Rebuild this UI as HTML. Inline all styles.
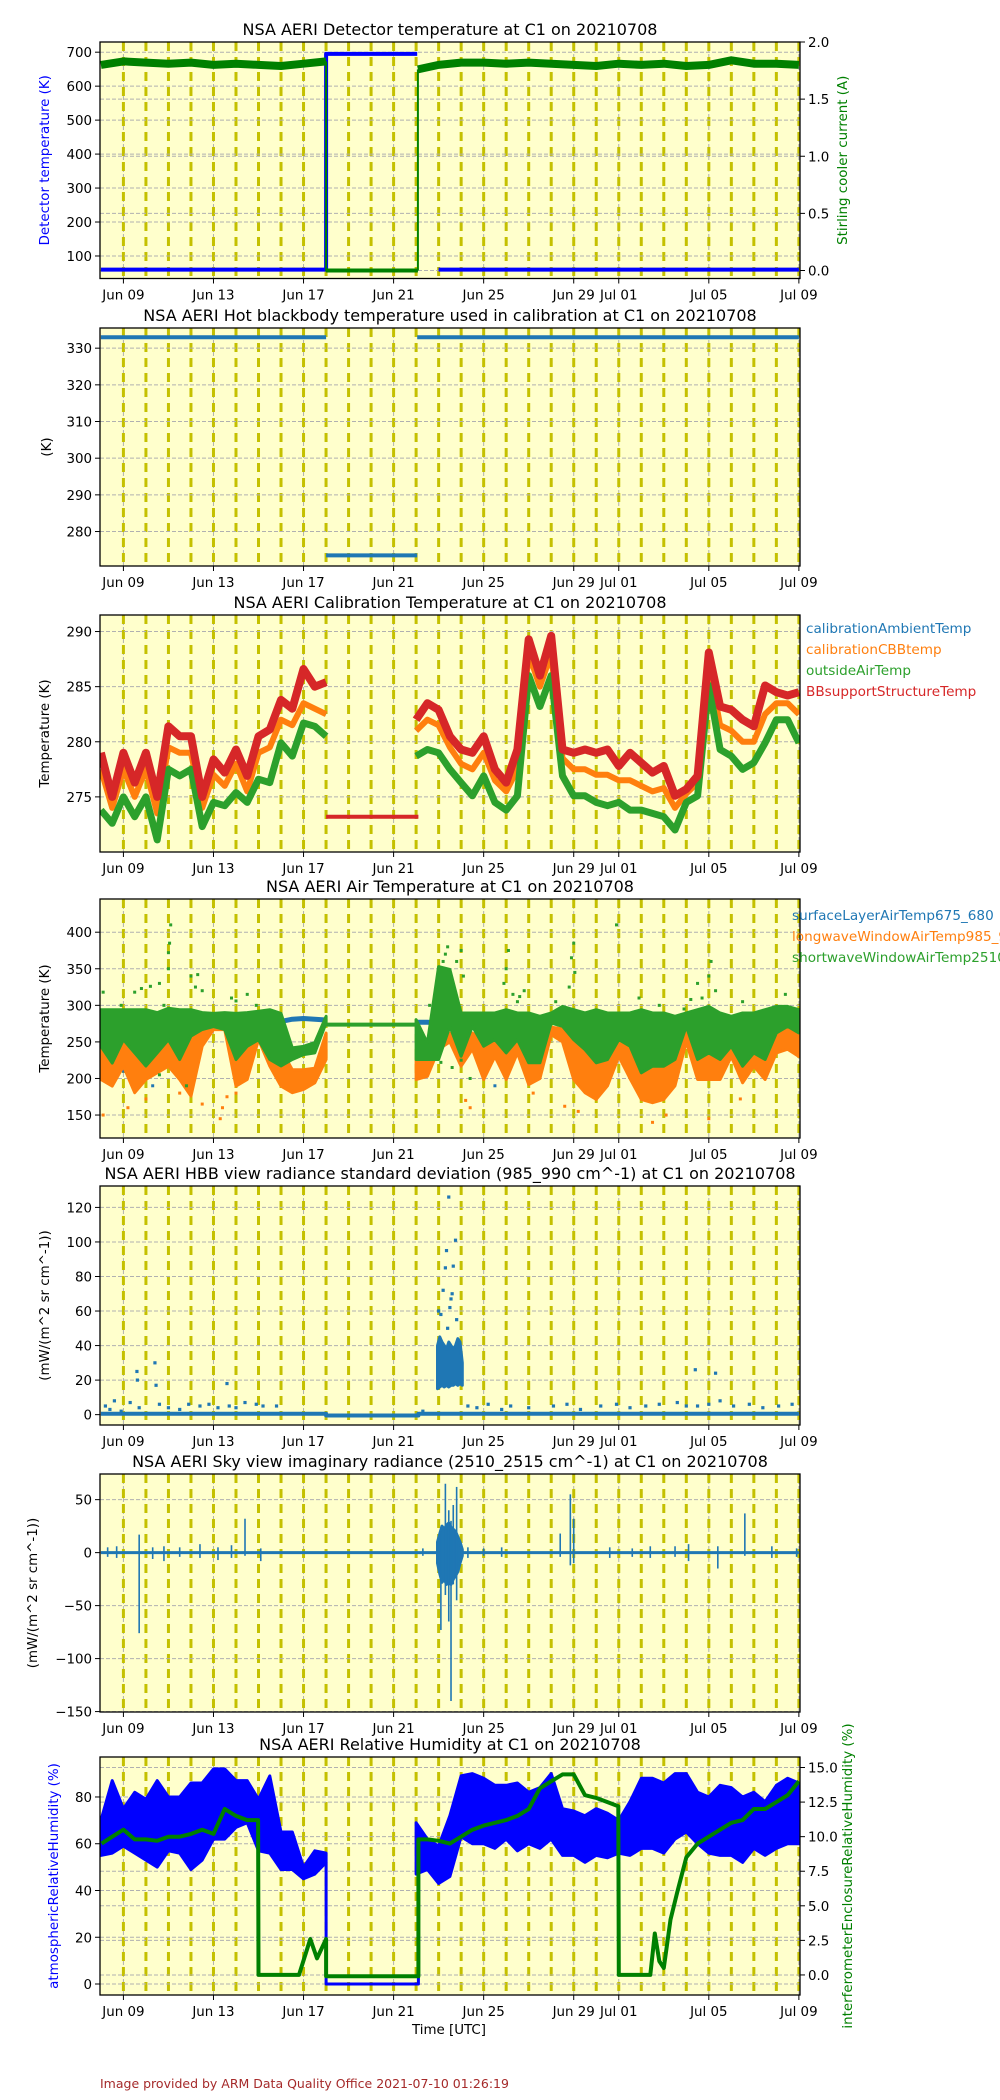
<!DOCTYPE html>
<html><head><meta charset="utf-8"><style>
html,body{margin:0;padding:0;background:#fff;}
svg{display:block;font-family:"DejaVu Sans","Liberation Sans",sans-serif;}
</style></head><body>
<svg id="fig" width="1000" height="2100" viewBox="0 0 1000 2100" xmlns="http://www.w3.org/2000/svg"></svg>
<script>
// ---------- shared axis ----------
const xTickDays = [1,5,9,13,17,21,23,27,31];
const xTickLabels = ["Jun 09","Jun 13","Jun 17","Jun 21","Jun 25","Jun 29","Jul 01","Jul 05","Jul 09"];
// ---------- panel 1 ----------
const p1BlueDaysA = [0,10,10,10,10,14.05];
const p1BlueValsA = [60,60,60,695,695,695];
const p1BlueDaysB = [15.0,31];
const p1BlueValsB = [60,60];
const p1GreenDaysA = [0,1,2,3,4,5,6,7,8,9,10];
const p1GreenValsA = [1.80,1.83,1.82,1.81,1.82,1.80,1.81,1.80,1.79,1.81,1.83];
const p1GreenDaysB = [14.08,15,16,17,18,19,20,21,22,23,24,25,26,27,28,29,30,31];
const p1GreenValsB = [1.76,1.80,1.82,1.82,1.81,1.82,1.81,1.80,1.79,1.81,1.80,1.81,1.79,1.80,1.84,1.81,1.81,1.80];
// ---------- panel 2 ----------
const p2DaysA = [0,10.0]; const p2ValsA = [333,333];
const p2DaysGap = [10.0,14.05]; const p2ValsGap = [273.5,273.5];
const p2DaysB = [14.05,31]; const p2ValsB = [333,333];
// ---------- panel 3 (half-day) ----------
const p3RedA = [279,275,279,276.3,279,275,281.4,280.5,280.5,275,278.4,277.2,279.3,276.9,280.5,281.1,283.8,283,286.6,285,285.4];
const p3GreenA = [273.8,272.6,275,273.2,275,271.1,277.5,276.9,277.5,272.3,274.5,274.2,275.4,274.5,276.6,276.3,279.9,278.7,281.7,281.4,280.5];
const p3OrangeA = [277.5,274,277.5,275,277.5,273.5,279.5,279,279,274,277,276,278,275.5,279,279.5,282,281.5,283.5,283,282.5];
const p3RedB = [282.0,283.5,282.9,280.5,279.3,279.0,280.5,277.5,276.3,279.3,289.3,286.0,289.6,279.3,279.0,279.3,279.0,279.3,277.8,279.0,278.1,277.2,277.8,275.1,275.7,276.9,288.1,283.2,282.9,282.0,281.4,285.1,284.5,284.2,284.5];
const p3GreenB = [278.7,279.3,279.0,277.5,276.3,275.1,276.9,274.5,273.8,275.1,286.0,283.2,286.0,276.9,275.1,275.1,274.5,274.2,274.5,273.8,273.8,273.5,273.2,272.0,274.5,275.1,285.1,279.3,278.7,277.5,278.1,279.9,282.0,282.0,279.9];
const p3OrangeB = [281,282,281.5,279.5,278,277.5,279,276.5,275.5,277.5,288,285,288,278.5,277.5,277.5,277,277,276.5,276.5,276,275.5,275.8,274,275.3,276.3,287,281.5,281,280,280,282.5,283.5,283.5,282.5];
const p3RedGapDays = [10.0,14.1]; const p3RedGapVals = [273.2,273.2];
const p3Legend = ["calibrationAmbientTemp","calibrationCBBtemp","outsideAirTemp","BBsupportStructureTemp"];
// ---------- panel 4 (half-day bands) ----------
const p4GreenHiA = [294,294,294,294,294,290,296,294,294,290,289,290,289,290,292,294,289,241.8,244,249,285];
const p4GreenLoA = [244,221,253,235,217,235,253,226,258,267,271,267,226,244,253,226,217,226,232.7,235,276];
const p4OrangeHiA = [262,250,262,255,245,255,262,250,265,268,270,268,250,260,262,250,240,212,212,214,262];
const p4OrangeLoA = [198.6,189.5,216.8,180.5,198.6,207.7,216.8,198.6,175.9,244.1,266.8,266.8,189.5,198.6,253.2,216.8,189.5,180.5,185,194.1,225.9];
const p4BlueA = [272,272,272,272,272,272,272,272,272,272,272,272,272,274,275,276,278,281,282,281,280];
const p4GreenHiB = [280.5,248.6,353,349,289.5,289.5,289.5,289.5,294.1,289.5,289.5,285,289.5,298.6,294.1,289.5,294.1,289.5,289.5,289.5,294.1,289.5,289.5,285,289.5,294.1,298.6,289.5,285,289.5,289.5,294.1,298.6,298.6,294.1];
const p4GreenLoB = [225.9,225.9,225.9,271.4,230.5,271.4,244.1,253.2,235,253.2,221.4,221.4,275.9,271.4,253.2,239.5,221.4,225.9,253.2,244.1,207.7,216.8,216.8,225.9,271.4,225.9,235,225.9,244.1,216.8,235,225.9,262.3,271.4,262.3];
const p4OrangeHiB = [228,228,235,262,235,262,250,255,240,255,225,225,270,268,255,244,225,230,255,248,212,220,220,230,268,230,240,230,248,222,240,230,262,268,262];
const p4OrangeLoB = [198.6,203,240,250,216.8,240,198.6,230,198.6,235,191.8,200,260,250,198.6,180.5,171.4,190,230,200,171.4,166.8,171.4,190,250,198.6,198.6,198.6,230,194.1,216.8,198.6,235,240,230];
const p4BlueB = [277,277,276,275,274,273,274,273,275,276,282,283,282,278,276,276,275,274,273,273,272,272,273,274,276,278,279,278,277,276,275,275,275,276,275];
const p4GreenGapDays = [10.0,14.0]; const p4GreenGapVals = [273.6,273.6];
const p4GreenOut = [[0.1,318],[0.9,300],[1.5,318],[1.8,323],[2.2,326],[2.6,330],[2.8,300],[3.0,350],[3.0,372],[3.1,410],[3.05,385],[4.0,340],[4.2,325],[4.3,342],[4.5,320],[5.8,310],[6.0,306],[6.5,315],[6.9,300],[14.6,300],[15.2,360],[15.3,370],[15.4,380],[15.8,360],[16.0,375],[16.1,340],[15.0,230],[15.1,222],[15.6,215],[16.0,225],[16.4,200],[17.9,330],[18.0,350],[18.1,375],[18.3,315],[18.5,305],[18.6,312],[18.8,320],[20.2,305],[20.8,325],[20.9,365],[21.0,385],[21.05,345],[22.9,410],[23.9,310],[24.8,300],[25.9,295],[26.2,308],[26.5,330],[26.7,310],[27.0,340],[27.1,360],[27.3,320],[28.5,305],[30.4,315],[2.6,205],[3.8,190]];
const p4OrangeOut = [[0.1,150],[1.2,160],[2.0,172],[3.5,180],[4.5,165],[5.3,145],[5.4,160],[5.6,175],[6.0,180],[16.2,170],[16.4,160],[20.6,162],[21.2,155],[24.5,140],[25.1,150],[27.0,145],[28.4,172],[19.2,180]];
const p4BlueOut = [[1.0,210],[1.4,200],[2.3,190],[6.0,240],[17.5,190],[21.9,205],[26.5,230]];
const p4Legend = ["surfaceLayerAirTemp675_680","longwaveWindowAirTemp985_990","shortwaveWindowAirTemp2510_2515"];
// ---------- panel 5 ----------
const p5LineDays = [0,10,10,14.1,14.1,31];
const p5LineVals = [0.5,0.5,-0.5,-0.5,0.5,0.5];
const p5Points = [[0.2,5],[0.4,3],[0.6,8],[0.9,2],[1.3,7],[1.6,25],[1.62,20],[1.7,4],[2.4,30],[2.45,17],[2.6,6],[3.0,4],[3.5,3],[3.9,6],[4.4,5],[4.8,6],[5.2,4],[5.6,18],[5.7,5],[6.0,4],[6.4,7],[6.9,6],[7.2,5],[7.8,5],[14.3,2],[16.3,5],[16.7,4],[17.2,6],[17.8,3],[18.2,5],[19.0,4],[20.1,5],[20.7,6],[21.3,3],[22.2,5],[22.9,6],[23.5,4],[24.2,5],[24.8,6],[25.6,7],[26.0,5],[26.4,26],[26.5,5],[27.0,6],[27.3,24],[27.5,8],[28.1,5],[28.8,6],[29.4,4],[30.1,5],[30.7,6]];
const p5CloudDays = [14.95,15.05,15.15,15.25,15.35,15.45,15.55,15.65,15.75,15.85,15.95,16.05];
const p5CloudLo = [15,16,17,16,17,16,17,17,18,17,18,17];
const p5CloudHi = [40,45,42,40,38,42,40,38,40,44,42,30];
const p5Spikes = [[15.0,60],[15.1,58],[15.2,72],[15.3,85],[15.35,95],[15.45,126],[15.5,62],[15.55,67],[15.6,70],[15.65,86],[15.75,101],[15.8,55],[15.4,50]];
// ---------- panel 6 ----------
const p6Spikes = [[0.3,-4,5],[0.7,-5,6],[1.7,-76,17],[2.3,-6,5],[2.8,-8,6],[3.5,-4,5],[4.4,-5,8],[5.2,-7,5],[5.8,-5,7],[6.4,-3,32],[7.1,-8,4],[14.3,-3,4],[16.3,-5,5],[17.0,-3,4],[17.8,-4,5],[20.4,-4,18],[20.85,-12,55],[21.0,-10,32],[22.6,-5,5],[23.6,-4,4],[24.4,-5,6],[25.5,-4,6],[26.1,-8,8],[27.4,-15,6],[28.6,-3,37],[29.8,-5,6],[30.9,-4,4]];
const p6CloudDays = [14.95,15.05,15.15,15.25,15.35,15.45,15.55,15.65,15.75,15.85,15.95,16.05];
const p6CloudLo = [-10,-20,-28,-25,-30,-28,-30,-25,-22,-18,-10,-3];
const p6CloudHi = [10,18,25,22,26,28,24,22,20,15,10,3];
const p6BigSpikes = [[15.1,-73,20],[15.3,-40,65],[15.55,-140,30],[15.45,-65,40],[15.8,-45,62],[15.65,-30,45]];
// ---------- panel 7 ----------
const p7BlueHiA = [70,87,75,82,79,87,80,80,86,86,92,92,87,87,79,89,65,65,50,57,56];
const p7BlueLoA = [55,56,59,56,53,50,57,56,49,53,62,62,67,69,57,56,49,49,45,47,52];
const p7BlueHiB = [69,62,59,72,89,90,88,85,85,86,82,84,90,75,74,72,75,73,70,78,88,88,86,90,90,82,80,85,84,80,82,78,85,88,86];
const p7BlueLoB = [47,49,43,46,63,60,60,58,62,57,60,58,62,55,55,52,55,54,56,55,58,58,56,62,65,60,56,55,55,52,58,55,58,60,60];
const p7BlueGapDays = [10.0,10.0,14.1,14.1]; const p7BlueGapVals = [52,0,0,50];
const p7GreenDays = [0.03,0.5,1,1.5,2,2.5,3,3.5,4,4.5,5,5.5,6,6.5,6.98,7.0,8.8,9.3,9.6,10.0,10.0,14.1,14.1,14.5,15,15.5,16,16.5,17,17.5,18,18.5,19,19.5,20,20.5,21,21.5,22,22.5,22.98,23.0,24.4,24.6,24.8,25.0,25.3,25.6,26,26.5,27,27.5,28,28.5,29,29.5,30,30.5,31];
const p7GreenVals = [9.5,10,10.5,9.8,9.8,9.7,10,10,10.2,10.5,10.2,12,11.5,11.2,11.2,0,0,2.6,1.2,2.6,-0.1,-0.1,9.8,9.8,9.7,9.5,10.0,10.5,10.8,11,11.2,11.5,12,13.5,14,14.5,14.5,13,12.8,12.5,12.2,0,0,3,1,0.5,4,6,8.5,9.5,10,10.5,11,11.2,12,12,12.5,13,14];

// ---------- drawing ----------
const NS = "http://www.w3.org/2000/svg";
const svg = document.getElementById("fig");
const XL = 100, XR = 800, DMIN = -0.04, DMAX = 31.05;
function xs(d){ return XL + (d - DMIN) / (DMAX - DMIN) * (XR - XL); }
function mk(tag, attrs, parent){ const e = document.createElementNS(NS, tag); for (const k in attrs) e.setAttribute(k, attrs[k]); (parent||svg).appendChild(e); return e; }
function halfDays(start, n){ const a=[]; for(let i=0;i<n;i++) a.push(start+0.5*i); return a; }
function scaler(top, bot, lo, hi){ return v => bot - (v - lo) / (hi - lo) * (bot - top); }

function panel(id, top, bot, title){
  const g = mk("g", {});
  
  
  const cp = mk("clipPath", {id: id + "-clip"}, g);
  mk("rect", {x: XL, y: top, width: XR-XL, height: bot-top}, cp);
  const bg = mk("rect", {x: XL, y: top, width: XR-XL, height: bot-top, fill: "#ffffcc"}, g);
  
  
  xTickDays.forEach(d => mk("line", {x1: xs(d), x2: xs(d), y1: top, y2: bot, stroke: "#b0b0b0", "stroke-width": 1, "stroke-dasharray": "4,2"}, g));
  const data = mk("g", {"clip-path": "url(#" + id + "-clip)"}, g);
  const tt = mk("text", {x: 450, y: top - 7, "text-anchor": "middle", "font-size": 16, fill: "#000"}, g);
  tt.textContent = title;
  
  
  return {g, data, top, bot};
}
function dayLines(P){
  for (let d = 1; d <= 31; d++) mk("line", {x1: xs(d), x2: xs(d), y1: P.top, y2: P.bot, stroke: "#c4c000", "stroke-width": 3, "stroke-dasharray": "9,6"}, P.data);
}
function yGrid(P, ticks, ys){
  ticks.forEach(t => mk("line", {x1: XL, x2: XR, y1: ys(t), y2: ys(t), stroke: "#b0b0b0", "stroke-width": 1, "stroke-dasharray": "4,2"}, P.data));
}
function frame(P, yticks, ys, fmt){
  mk("rect", {x: XL, y: P.top, width: XR-XL, height: P.bot-P.top, fill: "none", stroke: "#000", "stroke-width": 1.3}, P.g);
  const ax = mk("g", {}, P.g);
  
  
  xTickDays.forEach((d,i) => {
    mk("line", {x1: xs(d), x2: xs(d), y1: P.bot, y2: P.bot+5, stroke: "#000", "stroke-width": 1}, ax);
    const t = mk("text", {x: xs(d), y: P.bot + 21, "text-anchor": "middle", "font-size": 13.4}, ax);
    t.textContent = xTickLabels[i];
  });
  const ay = mk("g", {}, P.g);
  
  
  yticks.forEach(v => {
    const y = ys(v);
    mk("line", {x1: XL-5, x2: XL, y1: y, y2: y, stroke: "#000", "stroke-width": 1}, ay);
    const t = mk("text", {x: XL-8, y: y + 5, "text-anchor": "end", "font-size": 13.4}, ay);
    t.textContent = fmt(v);
  });
}
function rightAxis(P, ticks, ys, fmt){
  const ay = mk("g", {}, P.g);
  
  
  ticks.forEach(v => {
    const y = ys(v);
    mk("line", {x1: XR, x2: XR+5, y1: y, y2: y, stroke: "#000", "stroke-width": 1}, ay);
    const t = mk("text", {x: XR+8, y: y + 5, "text-anchor": "start", "font-size": 13.4}, ay);
    t.textContent = fmt(v);
  });
}
function ylabel(P, x, text, color, nm){
  const cy = (P.top + P.bot)/2;
  const t = mk("text", {x: x, y: cy, transform: "rotate(-90 " + x + " " + cy + ")", "text-anchor": "middle", "font-size": 13.4, fill: color}, P.g);
  t.textContent = text;
  
  
}
function line(P, days, vals, ys, color, w, nm){
  const pts = days.map((d,i) => xs(d).toFixed(1) + "," + ys(vals[i]).toFixed(1)).join(" ");
  const e = mk("polyline", {points: pts, fill: "none", stroke: color, "stroke-width": w, "stroke-linejoin": "round"}, P.data);
  
  
  return e;
}
function band(P, days, lo, hi, ys, color, nm){
  const up = days.map((d,i) => xs(d).toFixed(1) + "," + ys(hi[i]).toFixed(1));
  const dn = days.map((d,i) => xs(d).toFixed(1) + "," + ys(lo[i]).toFixed(1)).reverse();
  const e = mk("polygon", {points: up.concat(dn).join(" "), fill: color, stroke: color, "stroke-width": 3, "stroke-linejoin": "round"}, P.data);
  
  
}
function dots(P, pts, ys, color, r, nm){
  const g = mk("g", {fill: color}, P.data);
  
  
  pts.forEach(p => mk("rect", {x: xs(p[0]) - r, y: ys(p[1]) - r, width: 2*r, height: 2*r}, g));
}
function vspikes(P, arr, ys, color, w, nm){
  const g = mk("g", {stroke: color, "stroke-width": w}, P.data);
  
  
  arr.forEach(s => mk("line", {x1: xs(s[0]), x2: xs(s[0]), y1: ys(s[1]), y2: ys(s[2])}, g));
}
function legend(items, colors, x, y0, dy){
  items.forEach((s,i) => {
    const t = mk("text", {x: x, y: y0 + i*dy, "font-size": 13.6, fill: colors[i]});
    t.textContent = s;
    
    
  });
}
const C = {blue:"#1f77b4", orange:"#ff7f0e", green:"#2ca02c", red:"#d62728"};
const f0 = v => String(v).replace("-", "\u2212");

// Panel 1
{
  const P = panel("p1", 42, 278.5, "NSA AERI Detector temperature at C1 on 20210708");
  const yl = scaler(42, 278.5, 33.7, 730), yr = scaler(42, 278.5, -0.07, 2.0);
  dayLines(P); yGrid(P, [100,200,300,400,500,600,700], yl); yGrid(P, [0,0.5,1,1.5,2], yr);
  line(P, p1BlueDaysA, p1BlueValsA, yl, "#0000ff", 4, "detector-temperature-line-a");
  line(P, p1BlueDaysB, p1BlueValsB, yl, "#0000ff", 4, "detector-temperature-line-b");
  line(P, [10,10,14.08], [p1GreenValsA[p1GreenValsA.length-1],0,0], yr, "#008000", 2, "cooler-current-gap");
  line(P, [10,14.08], [0,0], yr, "#008000", 4, "cooler-current-gap-flat");
  line(P, p1GreenDaysA, p1GreenValsA, yr, "#008000", 8, "cooler-current-line-a");
  line(P, [14.08,14.08], [0,p1GreenValsB[0]], yr, "#008000", 2, "cooler-current-jump");
  line(P, p1GreenDaysB, p1GreenValsB, yr, "#008000", 8, "cooler-current-line-b");
  frame(P, [100,200,300,400,500,600,700], yl, f0);
  rightAxis(P, [0,0.5,1,1.5,2], yr, v => v.toFixed(1));
  ylabel(P, 49, "Detector temperature (K)", "#0000ff", "y-axis-title");
  ylabel(P, 847, "Stirling cooler current (A)", "#008000", "right-y-axis-title");
}
// Panel 2
{
  const P = panel("p2", 328, 566, "NSA AERI Hot blackbody temperature used in calibration at C1 on 20210708");
  const y = scaler(328, 566, 270.6, 335.5);
  dayLines(P); yGrid(P, [280,290,300,310,320,330], y);
  line(P, p2DaysA, p2ValsA, y, C.blue, 4, "hbb-temp-line-a");
  line(P, p2DaysGap, p2ValsGap, y, C.blue, 4, "hbb-temp-line-gap");
  line(P, p2DaysB, p2ValsB, y, C.blue, 4, "hbb-temp-line-b");
  frame(P, [280,290,300,310,320,330], y, f0);
  ylabel(P, 51, "(K)", "#000", "y-axis-title");
}
// Panel 3
{
  const P = panel("p3", 615, 852, "NSA AERI Calibration Temperature at C1 on 20210708");
  const y = scaler(615, 852, 270, 291.5);
  dayLines(P); yGrid(P, [275,280,285,290], y);
  const dA = halfDays(0, p3RedA.length), dB = halfDays(14, p3RedB.length);
  line(P, dA, p3OrangeA, y, C.blue, 5, "ambient-temp-a"); line(P, dB, p3OrangeB, y, C.blue, 5, "ambient-temp-b");
  line(P, dA, p3OrangeA, y, C.orange, 6, "cbb-temp-a"); line(P, dB, p3OrangeB, y, C.orange, 6, "cbb-temp-b");
  line(P, dA, p3GreenA, y, C.green, 7, "outside-air-temp-a"); line(P, dB, p3GreenB, y, C.green, 7, "outside-air-temp-b");
  line(P, dA, p3RedA, y, C.red, 8, "bb-support-temp-a"); line(P, dB, p3RedB, y, C.red, 8, "bb-support-temp-b");
  line(P, p3RedGapDays, p3RedGapVals, y, C.red, 4, "bb-support-temp-gap");
  frame(P, [275,280,285,290], y, f0);
  ylabel(P, 49, "Temperature (K)", "#000", "y-axis-title");
  legend(p3Legend, [C.blue,C.orange,C.green,C.red], 806, 633, 21);
}
// Panel 4
{
  const P = panel("p4", 899, 1138, "NSA AERI Air Temperature at C1 on 20210708");
  const y = scaler(899, 1138, 118.6, 445.4);
  dayLines(P); yGrid(P, [150,200,250,300,350,400], y);
  const dA = halfDays(0, p4GreenHiA.length), dB = halfDays(14, p4GreenHiB.length);
  line(P, dA, p4BlueA, y, C.blue, 5, "surface-air-temp-a"); line(P, dB, p4BlueB, y, C.blue, 5, "surface-air-temp-b");
  dots(P, p4BlueOut, y, C.blue, 1.5, "surface-air-temp-points");
  band(P, dA, p4OrangeLoA, p4OrangeHiA, y, C.orange, "longwave-air-temp-a");
  band(P, dB, p4OrangeLoB, p4OrangeHiB, y, C.orange, "longwave-air-temp-b");
  dots(P, p4OrangeOut, y, C.orange, 1.5, "longwave-air-temp-points");
  band(P, dA, p4GreenLoA, p4GreenHiA, y, C.green, "shortwave-air-temp-a");
  band(P, dB, p4GreenLoB, p4GreenHiB, y, C.green, "shortwave-air-temp-b");
  line(P, p4GreenGapDays, p4GreenGapVals, y, C.green, 4, "shortwave-air-temp-gap");
  dots(P, p4GreenOut, y, C.green, 1.5, "shortwave-air-temp-points");
  frame(P, [150,200,250,300,350,400], y, f0);
  ylabel(P, 49, "Temperature (K)", "#000", "y-axis-title");
  legend(p4Legend, [C.blue,C.orange,C.green], 792, 920, 21);
}
// Panel 5
{
  const P = panel("p5", 1186, 1425, "NSA AERI HBB view radiance standard deviation (985_990 cm^-1) at C1 on 20210708");
  const y = scaler(1186, 1425, -6, 132.4);
  dayLines(P); yGrid(P, [0,20,40,60,80,100,120], y);
  line(P, p5LineDays, p5LineVals, y, C.blue, 4, "hbb-std-line");
  band(P, p5CloudDays, p5CloudLo, p5CloudHi, y, C.blue, "hbb-std-cloud");
  dots(P, p5Points, y, C.blue, 1.6, "hbb-std-points");
  dots(P, p5Spikes, y, C.blue, 1.6, "hbb-std-outliers");
  frame(P, [0,20,40,60,80,100,120], y, f0);
  ylabel(P, 49, "(mW/(m^2 sr cm^-1))", "#000", "y-axis-title");
}
// Panel 6
{
  const P = panel("p6", 1474, 1712, "NSA AERI Sky view imaginary radiance (2510_2515 cm^-1) at C1 on 20210708");
  const y = scaler(1474, 1712, -150.4, 74.2);
  dayLines(P); yGrid(P, [-150,-100,-50,0,50], y);
  line(P, [0,31], [0,0], y, C.blue, 3, "sky-imag-line");
  vspikes(P, p6Spikes, y, C.blue, 1.6, "sky-imag-spikes");
  band(P, p6CloudDays, p6CloudLo, p6CloudHi, y, C.blue, "sky-imag-cloud");
  vspikes(P, p6BigSpikes, y, C.blue, 1.6, "sky-imag-big-spikes");
  frame(P, [-150,-100,-50,0,50], y, f0);
  ylabel(P, 37, "(mW/(m^2 sr cm^-1))", "#000", "y-axis-title");
}
// Panel 7
{
  const P = panel("p7", 1757, 1995, "NSA AERI Relative Humidity at C1 on 20210708");
  const yl = scaler(1757, 1995, -4.7, 97.1), yr = scaler(1757, 1995, -1.45, 15.76);
  dayLines(P); yGrid(P, [0,20,40,60,80], yl); yGrid(P, [0,2.5,5,7.5,10,12.5,15], yr);
  const dA = halfDays(0, p7BlueHiA.length), dB = halfDays(14, p7BlueHiB.length);
  band(P, dA, p7BlueLoA, p7BlueHiA, yl, "#0000ff", "atm-rh-a");
  band(P, dB, p7BlueLoB, p7BlueHiB, yl, "#0000ff", "atm-rh-b");
  line(P, p7BlueGapDays, p7BlueGapVals, yl, "#0000ff", 3, "atm-rh-gap");
  line(P, p7GreenDays, p7GreenVals, yr, "#008000", 4, "enclosure-rh-line");
  frame(P, [0,20,40,60,80], yl, f0);
  rightAxis(P, [0,2.5,5,7.5,10,12.5,15], yr, v => v.toFixed(1));
  ylabel(P, 58, "atmosphericRelativeHumidity (%)", "#0000ff", "y-axis-title");
  ylabel(P, 852, "interferometerEnclosureRelativeHumidity (%)", "#008000", "right-y-axis-title");
  const xt = mk("text", {x: 449, y: 2034, "text-anchor": "middle", "font-size": 13.4});
  xt.textContent = "Time [UTC]";
  
  
}
const ft = mk("text", {x: 100, y: 2088, "font-size": 12.5, fill: "#a52a2a"});
ft.textContent = "Image provided by ARM Data Quality Office 2021-07-10 01:26:19";


</script>
</body></html>
